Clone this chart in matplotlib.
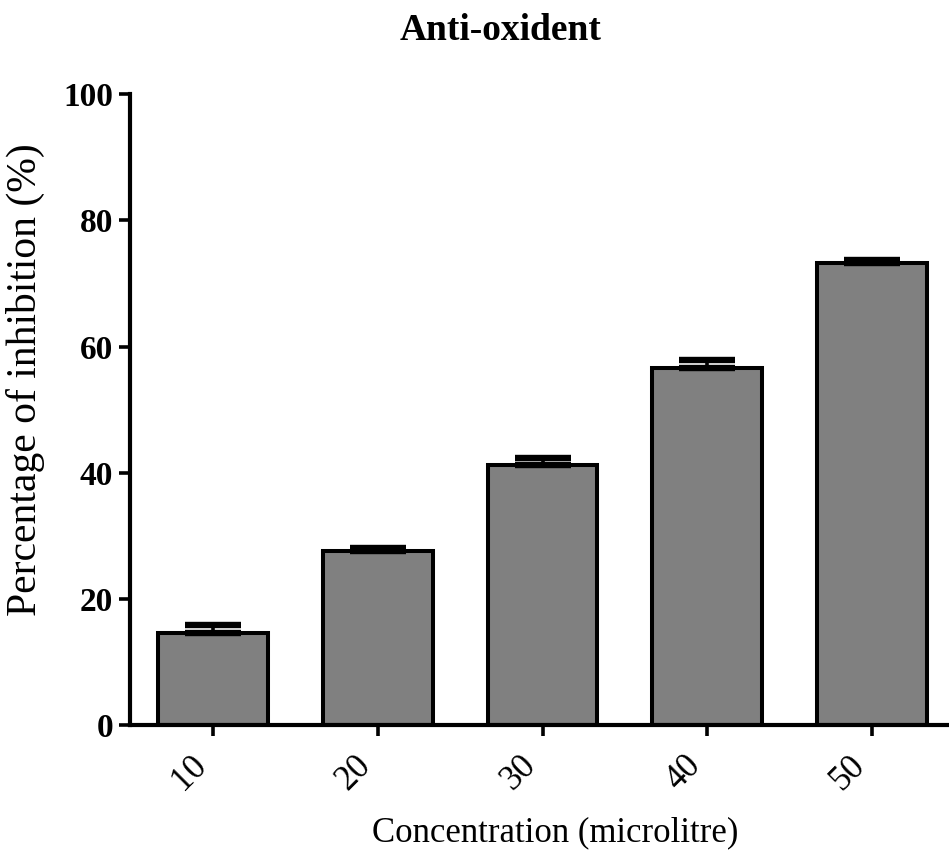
import numpy as np
import matplotlib
matplotlib.use('Agg')
import matplotlib.pyplot as plt

# data
concentration = ['10', '20', '30', '40', '50']
inhibition = [14.6, 27.6, 41.2, 56.6, 73.2]
sem = [1.2, 0.5, 1.2, 1.2, 0.5]

plt.rcParams['font.family'] = ['Liberation Serif', 'DejaVu Serif']

fig = plt.figure(figsize=(9.49, 8.56), dpi=100)
ax = fig.add_axes([0.137, 0.153, 0.863, 0.737])

x = np.arange(len(concentration))
ax.bar(x, inhibition, width=0.667, color='#808080', edgecolor='black',
       linewidth=2.9, zorder=2)
# only the upper half of the error bar is visible
ax.errorbar(x, inhibition, yerr=[np.zeros(len(sem)), sem], fmt='none',
            ecolor='black', elinewidth=2.6, capsize=20, capthick=4.6, zorder=3)

ax.set_xlim(-0.504, 4.467)
ax.set_ylim(0, 100)
ax.set_yticks([0, 20, 40, 60, 80, 100])
ax.set_xticks(x)
ax.set_xticklabels(concentration, rotation=45, ha='right', fontsize=25)
for lab in ax.get_yticklabels():
    lab.set_fontweight('bold')
    lab.set_fontsize(24)

for side in ['top', 'right']:
    ax.spines[side].set_visible(False)
for side in ['left', 'bottom']:
    ax.spines[side].set_linewidth(3)
ax.tick_params(axis='both', width=2.6, length=8, pad=4)
ax.tick_params(axis='x', length=8, pad=9)

ax.set_ylabel('Percentage of inhibition (%)', fontsize=30)
ax.yaxis.set_label_coords(-0.104, 0.548)
ax.set_xlabel('Concentration (microlitre)', fontsize=25)
ax.xaxis.set_label_coords(0.519, -0.145)
ax.set_title('Anti-oxident', fontsize=27, fontweight='bold', x=0.452, y=1.072)

fig.savefig('out.png', dpi=100)
